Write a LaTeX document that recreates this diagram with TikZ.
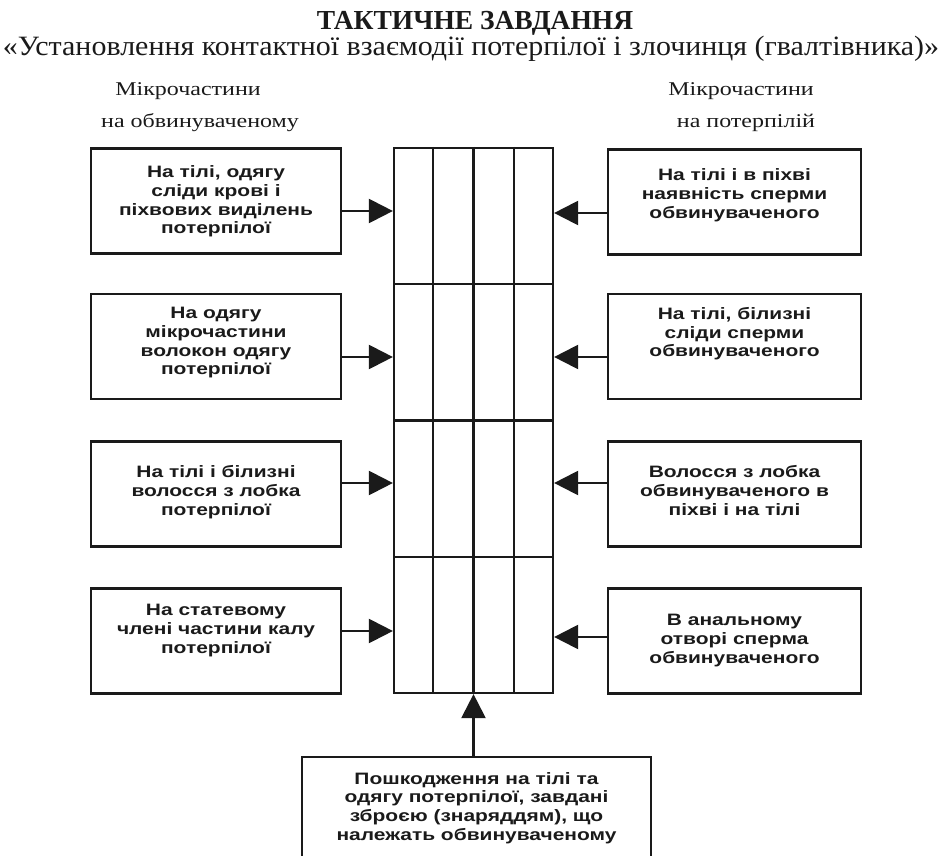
\documentclass[tikz,border=0pt]{standalone}
\usepackage{fontspec}
\usepackage{xcolor}
\usepackage{tikz}
\usetikzlibrary{arrows.meta,calc,positioning}
\setmainfont{Liberation Serif}
\newfontfamily\cardfont[FakeStretch=1.27]{Liberation Sans}
\newfontfamily\subfont[FakeStretch=1.07]{Liberation Serif}
\newfontfamily\sidefont[FakeStretch=1.23]{Liberation Serif}
\definecolor{tacInk}{HTML}{1A1A1A}
\tikzset{
  tacbox/.style={draw=tacInk, line width=2.2pt, minimum width=250pt,
    minimum height=105pt, inner sep=0pt},
  taccell/.style={draw=tacInk, line width=2.2pt, minimum width=159pt,
    minimum height=136.25pt, inner sep=0pt},
  tactext/.style={font=\cardfont\bfseries\fontsize{16.5}{18.8}\selectfont,
    text=tacInk, align=center, inner sep=0pt, anchor=north},
  tacflow/.style={-{Triangle[length=24pt,width=24pt]}, draw=tacInk,
    line width=2.2pt},
  tachead/.style={font=\bfseries\fontsize{27.5}{30}\selectfont,
    text=tacInk, anchor=base, inner sep=0pt},
  tacsub/.style={font=\subfont\fontsize{28}{30}\selectfont, text=tacInk,
    anchor=base, inner sep=0pt},
  taclabel/.style={font=\sidefont\fontsize{19.5}{22}\selectfont,
    text=tacInk, anchor=base, inner sep=0pt},
}
\begin{document}
\begin{tikzpicture}[x=1pt,y=-1pt]
  \useasboundingbox (0,0) rectangle (945,856);
  \clip (0,0) rectangle (945,856);

  \node[tachead] (title) at (475,30) {ТАКТИЧНЕ ЗАВДАННЯ};
  \node[tacsub] (subtitle) at (471,55.5)
    {«Установлення контактної взаємодії потерпілої і злочинця (гвалтівника)»};
  \node[taclabel] (accA) at (188,96) {Мікрочастини};
  \node[taclabel] (accB) at (200,128) {на обвинуваченому};
  \node[taclabel] (vicA) at (741,96) {Мікрочастини};
  \node[taclabel] (vicB) at (746,128) {на потерпілій};

  % central register: four rows, four columns
  \node[taccell] (row1) at (473.5,216.125) {};
  \node[taccell] (row2) at (473.5,352.375) {};
  \node[taccell] (row3) at (473.5,488.625) {};
  \node[taccell] (row4) at (473.5,624.875) {};
  \foreach \i in {1,2,3}
    \draw[tacInk,line width=2.2pt]
      ($(row1.north west)!\i/4!(row1.north east)$)
      --($(row4.south west)!\i/4!(row4.south east)$);

  % traces on the accused
  \node[tacbox] (acc1) at (216,201) {};
  \node[tacbox] (acc2) at (216,346.5) {};
  \node[tacbox] (acc3) at (216,494) {};
  \node[tacbox] (acc4) at (216,641) {};
  \node[tactext] (acc1t) at ([yshift=-18pt]acc1.north)
    {На тілі, одягу\\сліди крові і\\піхвових виділень\\потерпілої};
  \node[tactext] (acc2t) at ([yshift=-14pt]acc2.north)
    {На одягу\\мікрочастини\\волокон одягу\\потерпілої};
  \node[tactext] (acc3t) at ([yshift=-25pt]acc3.north)
    {На тілі і білизні\\волосся з лобка\\потерпілої};
  \node[tactext] (acc4t) at ([yshift=-17pt]acc4.north)
    {На статевому\\члені частини калу\\потерпілої};

  % traces on the victim
  \node[tacbox,minimum width=253pt] (vic1) at (734.5,202) {};
  \node[tacbox,minimum width=253pt] (vic2) at (734.5,346.5) {};
  \node[tacbox,minimum width=253pt] (vic3) at (734.5,494) {};
  \node[tacbox,minimum width=253pt] (vic4) at (734.5,641) {};
  \node[tactext] (vic1t) at ([yshift=-20pt]vic1.north)
    {На тілі і в піхві\\наявність сперми\\обвинуваченого};
  \node[tactext] (vic2t) at ([yshift=-14pt]vic2.north)
    {На тілі, білизні\\сліди сперми\\обвинуваченого};
  \node[tactext] (vic3t) at ([yshift=-25pt]vic3.north)
    {Волосся з лобка\\обвинуваченого в\\піхві і на тілі};
  \node[tactext] (vic4t) at ([yshift=-27pt]vic4.north)
    {В анальному\\отворі сперма\\обвинуваченого};

  % injuries by the weapon
  \node[tacbox,minimum width=349pt,minimum height=113pt]
    (harm) at (476.5,813.5) {};
  \node[tactext] (harmt) at ([yshift=-16pt]harm.north)
    {Пошкодження на тілі та\\одягу потерпілої, завдані\\зброєю (знаряддям), що\\належать обвинуваченому};

  \draw[tacflow] ([yshift=-10pt]acc1.east) -- ([yshift=-10pt]acc1.east -| row1.west);
  \draw[tacflow] ([yshift=-10.5pt]acc2.east) -- ([yshift=-10.5pt]acc2.east -| row2.west);
  \draw[tacflow] ([yshift=11pt]acc3.east) -- ([yshift=11pt]acc3.east -| row3.west);
  \draw[tacflow] ([yshift=10pt]acc4.east) -- ([yshift=10pt]acc4.east -| row4.west);
  \draw[tacflow] ([yshift=-11pt]vic1.west) -- ([yshift=-11pt]vic1.west -| row1.east);
  \draw[tacflow] ([yshift=-10.5pt]vic2.west) -- ([yshift=-10.5pt]vic2.west -| row2.east);
  \draw[tacflow] ([yshift=11pt]vic3.west) -- ([yshift=11pt]vic3.west -| row3.east);
  \draw[tacflow] ([yshift=4pt]vic4.west) -- ([yshift=4pt]vic4.west -| row4.east);
  \draw[tacflow] (row4.south |- harm.north) -- (row4.south);
\end{tikzpicture}
\end{document}
